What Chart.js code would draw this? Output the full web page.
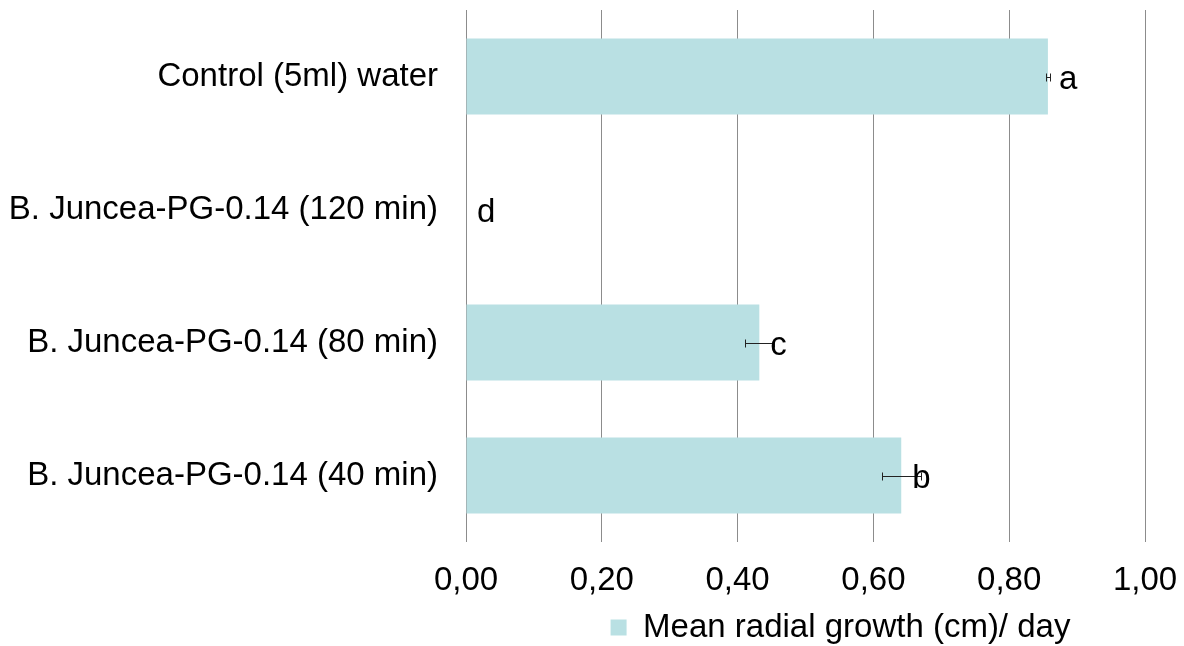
<!DOCTYPE html>
<html>
<head>
<meta charset="utf-8">
<script src="https://cdn.jsdelivr.net/npm/chart.js@4.4.1/dist/chart.umd.min.js"></script>
<style>
  html, body { margin: 0; padding: 0; background: #fff; }
  #wrap { width: 1184px; height: 646px; }
</style>
</head>
<body>
<div id="wrap"><canvas id="growthChart"></canvas></div>
<script>
// data
const categories = [
  'Control (5ml) water',
  'B. Juncea-PG-0.14 (120 min)',
  'B. Juncea-PG-0.14 (80 min)',
  'B. Juncea-PG-0.14 (40 min)'
];
const growth = [0.857, 0, 0.432, 0.641];
const errors = [0.003, 0, 0.021, 0.029];
const letters = ['a', 'd', 'c', 'b'];
const xTicks = [0, 0.2, 0.4, 0.6, 0.8, 1.0];

const FONT = 'Liberation Sans, Arial, sans-serif';
const SIZE = 33;
const BAR = 'rgb(185,224,227)';

// error bars + significance letters
const extrasPlugin = {
  id: 'extras',
  afterDatasetsDraw(chart) {
    const { ctx, scales: { x, y } } = chart;
    ctx.save();
    ctx.strokeStyle = '#222';
    ctx.lineWidth = 1;
    growth.forEach((v, i) => {
      if (!errors[i]) return;
      const cy = Math.round(y.getPixelForValue(i)) + 0.5;
      const x0 = Math.round(x.getPixelForValue(v - errors[i])) + 0.5;
      const x1 = Math.round(x.getPixelForValue(v + errors[i])) + 0.5;
      ctx.beginPath();
      ctx.moveTo(x0, cy); ctx.lineTo(x1, cy);
      ctx.moveTo(x0, cy - 4); ctx.lineTo(x0, cy + 4);
      ctx.moveTo(x1, cy - 4); ctx.lineTo(x1, cy + 4);
      ctx.stroke();
    });
    ctx.fillStyle = '#000';
    ctx.font = SIZE + 'px ' + FONT;
    ctx.textAlign = 'left';
    ctx.textBaseline = 'middle';
    letters.forEach((t, i) => {
      ctx.fillText(t, x.getPixelForValue(growth[i]) + 11, y.getPixelForValue(i) + 3);
    });
    ctx.restore();
  }
};

// nudge legend to where it sits in the original
const legendShift = {
  id: 'legendShift',
  afterLayout(chart) {
    const lg = chart.legend;
    if (!lg) return;
    const dx = 268, dy = 8;
    lg.left += dx; lg.right += dx;
    lg.top += dy; lg.bottom += dy;
  }
};

new Chart(document.getElementById('growthChart'), {
  type: 'bar',
  data: {
    labels: categories,
    datasets: [{
      label: 'Mean radial growth (cm)/ day',
      data: growth,
      backgroundColor: BAR,
      borderWidth: 0,
      barPercentage: 0.57,
      categoryPercentage: 1
    }]
  },
  options: {
    indexAxis: 'y',
    responsive: true,
    maintainAspectRatio: false,
    animation: false,
    layout: { padding: { top: 10, right: 39, left: 0, bottom: 0 } },
    plugins: {
      legend: {
        position: 'bottom',
        labels: {
          color: '#000',
          font: { family: FONT, size: SIZE },
          boxWidth: 16,
          boxHeight: 16,
          padding: 4
        }
      },
      tooltip: { enabled: false }
    },
    scales: {
      x: {
        min: 0,
        max: 1,
        afterBuildTicks: s => { s.ticks = xTicks.map(v => ({ value: v })); },
        afterFit: s => { s.height = 57; s.paddingLeft = 0; s.paddingRight = 0; },
        ticks: {
          color: '#000',
          font: { family: FONT, size: SIZE },
          padding: 19,
          maxRotation: 0,
          callback: v => Number(v).toFixed(2).replace('.', ',')
        },
        grid: { color: '#8c8c8c', lineWidth: 1, drawTicks: false },
        border: { display: false }
      },
      y: {
        afterFit: s => { s.width = 466; s.paddingTop = 0; s.paddingBottom = 0; },
        ticks: {
          color: '#000',
          font: { family: FONT, size: SIZE },
          padding: 28
        },
        grid: { display: false, drawTicks: false },
        border: { display: false }
      }
    }
  },
  plugins: [extrasPlugin, legendShift]
});
</script>
</body>
</html>
